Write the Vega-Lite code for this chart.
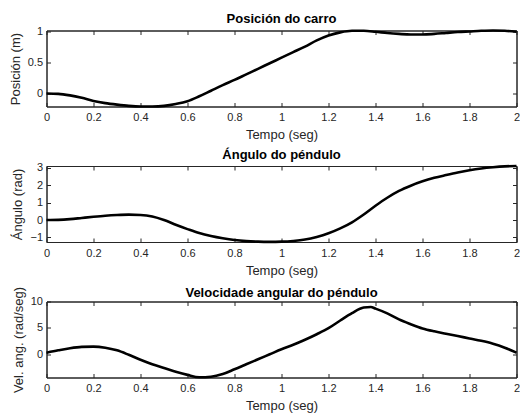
{
  "$schema": "https://vega.github.io/schema/vega-lite/v6.json",
  "background": "white",
  "padding": {"left": 8.5, "top": 12.5, "right": 0, "bottom": 0},
  "config": {
    "font": "Liberation Sans",
    "view": {"stroke": "#262626", "strokeWidth": 1},
    "axis": {
      "grid": false,
      "labelFont": "Liberation Sans",
      "labelFontSize": 11,
      "labelColor": "#262626",
      "labelOverlap": false,
      "labelFlush": false,
      "titleFont": "Liberation Sans",
      "titleFontSize": 13,
      "titleFontWeight": "normal",
      "titleColor": "#262626",
      "domainColor": "#262626",
      "tickColor": "#262626",
      "tickSize": -4,
      "labelPadding": 8,
      "titlePadding": 5
    },
    "axisBottom": {"titlePadding": 6, "labelPadding": 9},
    "title": {"font": "Liberation Sans", "fontSize": 13, "fontWeight": "bold", "color": "black", "offset": -1, "anchor": "middle"}
  },
  "datasets": {
    "pos": [
      {"t": 0, "v": 0.0}, {"t": 0.05, "v": -0.005}, {"t": 0.1, "v": -0.03}, {"t": 0.15, "v": -0.07},
      {"t": 0.2, "v": -0.12}, {"t": 0.25, "v": -0.155}, {"t": 0.3, "v": -0.18}, {"t": 0.35, "v": -0.2},
      {"t": 0.4, "v": -0.21}, {"t": 0.45, "v": -0.21}, {"t": 0.5, "v": -0.2}, {"t": 0.55, "v": -0.17},
      {"t": 0.6, "v": -0.125}, {"t": 0.65, "v": -0.045}, {"t": 0.7, "v": 0.045}, {"t": 0.75, "v": 0.135},
      {"t": 0.8, "v": 0.22}, {"t": 0.85, "v": 0.31}, {"t": 0.9, "v": 0.4}, {"t": 0.95, "v": 0.49},
      {"t": 1.0, "v": 0.58}, {"t": 1.05, "v": 0.67}, {"t": 1.1, "v": 0.76}, {"t": 1.15, "v": 0.86},
      {"t": 1.2, "v": 0.94}, {"t": 1.25, "v": 0.99}, {"t": 1.3, "v": 1.015}, {"t": 1.35, "v": 1.015},
      {"t": 1.4, "v": 1.0}, {"t": 1.45, "v": 0.98}, {"t": 1.5, "v": 0.965}, {"t": 1.55, "v": 0.955},
      {"t": 1.6, "v": 0.955}, {"t": 1.65, "v": 0.965}, {"t": 1.7, "v": 0.98}, {"t": 1.75, "v": 0.995},
      {"t": 1.8, "v": 1.005}, {"t": 1.85, "v": 1.015}, {"t": 1.9, "v": 1.02}, {"t": 1.95, "v": 1.015},
      {"t": 2.0, "v": 1.0}
    ],
    "ang": [
      {"t": 0, "v": 0.0}, {"t": 0.05, "v": 0.01}, {"t": 0.1, "v": 0.05}, {"t": 0.15, "v": 0.12},
      {"t": 0.2, "v": 0.19}, {"t": 0.25, "v": 0.25}, {"t": 0.3, "v": 0.29}, {"t": 0.35, "v": 0.31},
      {"t": 0.4, "v": 0.29}, {"t": 0.45, "v": 0.2}, {"t": 0.5, "v": 0.0}, {"t": 0.55, "v": -0.27},
      {"t": 0.6, "v": -0.52}, {"t": 0.65, "v": -0.75}, {"t": 0.7, "v": -0.92}, {"t": 0.75, "v": -1.05},
      {"t": 0.8, "v": -1.15}, {"t": 0.85, "v": -1.21}, {"t": 0.9, "v": -1.24}, {"t": 0.95, "v": -1.25},
      {"t": 1.0, "v": -1.24}, {"t": 1.05, "v": -1.2}, {"t": 1.1, "v": -1.12}, {"t": 1.15, "v": -0.97},
      {"t": 1.2, "v": -0.76}, {"t": 1.25, "v": -0.48}, {"t": 1.3, "v": -0.13}, {"t": 1.35, "v": 0.32},
      {"t": 1.4, "v": 0.82}, {"t": 1.45, "v": 1.28}, {"t": 1.5, "v": 1.67}, {"t": 1.55, "v": 1.97},
      {"t": 1.6, "v": 2.22}, {"t": 1.65, "v": 2.42}, {"t": 1.7, "v": 2.58}, {"t": 1.75, "v": 2.73},
      {"t": 1.8, "v": 2.86}, {"t": 1.85, "v": 2.96}, {"t": 1.9, "v": 3.03}, {"t": 1.95, "v": 3.08},
      {"t": 2.0, "v": 3.1}
    ],
    "vel": [
      {"t": 0, "v": 0.3}, {"t": 0.05, "v": 0.75}, {"t": 0.1, "v": 1.15}, {"t": 0.15, "v": 1.4},
      {"t": 0.2, "v": 1.45}, {"t": 0.25, "v": 1.25}, {"t": 0.3, "v": 0.75}, {"t": 0.35, "v": -0.1},
      {"t": 0.4, "v": -1.05}, {"t": 0.45, "v": -1.9}, {"t": 0.5, "v": -2.6}, {"t": 0.55, "v": -3.3},
      {"t": 0.6, "v": -3.9}, {"t": 0.65, "v": -4.35}, {"t": 0.7, "v": -4.25}, {"t": 0.75, "v": -3.75},
      {"t": 0.8, "v": -2.85}, {"t": 0.85, "v": -1.9}, {"t": 0.9, "v": -0.95}, {"t": 0.95, "v": 0.0},
      {"t": 1.0, "v": 0.95}, {"t": 1.05, "v": 1.8}, {"t": 1.1, "v": 2.75}, {"t": 1.15, "v": 3.8},
      {"t": 1.2, "v": 4.95}, {"t": 1.25, "v": 6.4}, {"t": 1.3, "v": 7.8}, {"t": 1.35, "v": 8.85},
      {"t": 1.38, "v": 8.95}, {"t": 1.4, "v": 8.65}, {"t": 1.45, "v": 7.75}, {"t": 1.5, "v": 6.6},
      {"t": 1.55, "v": 5.7}, {"t": 1.6, "v": 4.9}, {"t": 1.65, "v": 4.35}, {"t": 1.7, "v": 3.9},
      {"t": 1.75, "v": 3.45}, {"t": 1.8, "v": 3.0}, {"t": 1.85, "v": 2.55}, {"t": 1.9, "v": 2.0},
      {"t": 1.95, "v": 1.25}, {"t": 2.0, "v": 0.3}
    ]
  },
  "spacing": 59.5,
  "bounds": "flush",
  "vconcat": [
    {
      "title": "Posición do carro",
      "width": 470,
      "height": 76,
      "data": {"name": "pos"},
      "layer": [
        {
          "mark": {"type": "line", "color": "black", "strokeWidth": 2.6, "interpolate": "monotone"},
          "encoding": {
            "x": {"field": "t", "type": "quantitative", "scale": {"domain": [0, 2], "nice": false, "zero": false},
                  "axis": {"orient": "bottom", "title": "Tempo (seg)", "values": [0, 0.2, 0.4, 0.6, 0.8, 1, 1.2, 1.4, 1.6, 1.8, 2], "format": ".2~f"}},
            "y": {"field": "v", "type": "quantitative", "scale": {"domain": [-0.21, 1.02], "nice": false, "zero": false},
                  "axis": {"orient": "left", "title": "Posición (m)", "values": [0, 0.5, 1], "format": ".2~f"}}
          }
        },
        {
          "mark": {"type": "line", "opacity": 0},
          "encoding": {
            "x": {"field": "t", "type": "quantitative", "axis": {"orient": "top", "title": null, "labels": false, "values": [0, 0.2, 0.4, 0.6, 0.8, 1, 1.2, 1.4, 1.6, 1.8, 2]}},
            "y": {"field": "v", "type": "quantitative", "axis": {"orient": "right", "title": null, "labels": false, "values": [0, 0.5, 1]}}
          }
        }
      ],
      "resolve": {"axis": {"x": "independent", "y": "independent"}}
    },
    {
      "title": "Ángulo do péndulo",
      "width": 470,
      "height": 76,
      "data": {"name": "ang"},
      "layer": [
        {
          "mark": {"type": "line", "color": "black", "strokeWidth": 2.6, "interpolate": "monotone"},
          "encoding": {
            "x": {"field": "t", "type": "quantitative", "scale": {"domain": [0, 2], "nice": false, "zero": false},
                  "axis": {"orient": "bottom", "title": "Tempo (seg)", "values": [0, 0.2, 0.4, 0.6, 0.8, 1, 1.2, 1.4, 1.6, 1.8, 2], "format": ".2~f"}},
            "y": {"field": "v", "type": "quantitative", "scale": {"domain": [-1.26, 3.1], "nice": false, "zero": false},
                  "axis": {"orient": "left", "title": "Ángulo (rad)", "values": [-1, 0, 1, 2, 3], "format": ".2~f"}}
          }
        },
        {
          "mark": {"type": "line", "opacity": 0},
          "encoding": {
            "x": {"field": "t", "type": "quantitative", "axis": {"orient": "top", "title": null, "labels": false, "values": [0, 0.2, 0.4, 0.6, 0.8, 1, 1.2, 1.4, 1.6, 1.8, 2]}},
            "y": {"field": "v", "type": "quantitative", "axis": {"orient": "right", "title": null, "labels": false, "values": [-1, 0, 1, 2, 3]}}
          }
        }
      ],
      "resolve": {"axis": {"x": "independent", "y": "independent"}}
    },
    {
      "title": {"text": "Velocidade angular do péndulo", "offset": -14},
      "width": 470,
      "height": 76,
      "data": {"name": "vel"},
      "layer": [
        {
          "mark": {"type": "line", "color": "black", "strokeWidth": 2.6, "interpolate": "monotone"},
          "encoding": {
            "x": {"field": "t", "type": "quantitative", "scale": {"domain": [0, 2], "nice": false, "zero": false},
                  "axis": {"orient": "bottom", "title": "Tempo (seg)", "values": [0, 0.2, 0.4, 0.6, 0.8, 1, 1.2, 1.4, 1.6, 1.8, 2], "format": ".2~f"}},
            "y": {"field": "v", "type": "quantitative", "scale": {"domain": [-4.4, 10], "nice": false, "zero": false},
                  "axis": {"orient": "left", "title": "Vel. ang. (rad/seg)", "values": [0, 5, 10], "format": ".2~f"}}
          }
        },
        {
          "mark": {"type": "line", "opacity": 0},
          "encoding": {
            "x": {"field": "t", "type": "quantitative", "axis": {"orient": "top", "title": null, "labels": false, "values": [0, 0.2, 0.4, 0.6, 0.8, 1, 1.2, 1.4, 1.6, 1.8, 2]}},
            "y": {"field": "v", "type": "quantitative", "axis": {"orient": "right", "title": null, "labels": false, "values": [0, 5, 10]}}
          }
        }
      ],
      "resolve": {"axis": {"x": "independent", "y": "independent"}}
    }
  ]
}
